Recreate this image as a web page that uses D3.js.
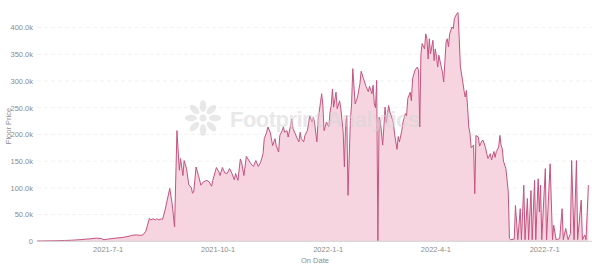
<!DOCTYPE html>
<html>
<head>
<meta charset="utf-8">
<script src="https://cdn.jsdelivr.net/npm/d3@7"></script>
<style>
    body { margin: 0; background: #fff; }
    text { font-family: "Liberation Sans", Arial, sans-serif; }
</style>
</head>
<body>
<svg></svg>
<script>
// floor price by date, in thousands
let dates = [
    "2021-05-03", "2021-05-10", "2021-05-18", "2021-05-26", "2021-06-01", "2021-06-08", "2021-06-13", "2021-06-18",
    "2021-06-22", "2021-06-26", "2021-06-28", "2021-07-01", "2021-07-08", "2021-07-13", "2021-07-18", "2021-07-21",
    "2021-07-25", "2021-07-29", "2021-07-31", "2021-08-02", "2021-08-05", "2021-08-06", "2021-08-08", "2021-08-10",
    "2021-08-11", "2021-08-13", "2021-08-15", "2021-08-16", "2021-08-18", "2021-08-22", "2021-08-24", "2021-08-26",
    "2021-08-28", "2021-08-30", "2021-08-31", "2021-09-02", "2021-09-03", "2021-09-05", "2021-09-07", "2021-09-09",
    "2021-09-10", "2021-09-11", "2021-09-13", "2021-09-15", "2021-09-17", "2021-09-19", "2021-09-22", "2021-09-24",
    "2021-09-26", "2021-09-27", "2021-09-30", "2021-10-02", "2021-10-03", "2021-10-05", "2021-10-07", "2021-10-09",
    "2021-10-11", "2021-10-13", "2021-10-15", "2021-10-16", "2021-10-18", "2021-10-20", "2021-10-21", "2021-10-23",
    "2021-10-25", "2021-10-28", "2021-10-30", "2021-10-31", "2021-11-02", "2021-11-04", "2021-11-06", "2021-11-08",
    "2021-11-09", "2021-11-11", "2021-11-12", "2021-11-14", "2021-11-16", "2021-11-18", "2021-11-19", "2021-11-21",
    "2021-11-22", "2021-11-24", "2021-11-25", "2021-11-26", "2021-11-28", "2021-11-29", "2021-12-01", "2021-12-02",
    "2021-12-03", "2021-12-05", "2021-12-06", "2021-12-08", "2021-12-09", "2021-12-10", "2021-12-12", "2021-12-13",
    "2021-12-15", "2021-12-16", "2021-12-17", "2021-12-19", "2021-12-20", "2021-12-21", "2021-12-23", "2021-12-24",
    "2021-12-26", "2021-12-27", "2021-12-28", "2021-12-29", "2021-12-31", "2022-01-02", "2022-01-03", "2022-01-04",
    "2022-01-05", "2022-01-06", "2022-01-08", "2022-01-09", "2022-01-11", "2022-01-12", "2022-01-14", "2022-01-15",
    "2022-01-16", "2022-01-17", "2022-01-18", "2022-01-20", "2022-01-21", "2022-01-22", "2022-01-24", "2022-01-26",
    "2022-01-28", "2022-01-29", "2022-01-31", "2022-02-02", "2022-02-04", "2022-02-05", "2022-02-07", "2022-02-08",
    "2022-02-09", "2022-02-10", "2022-02-11", "2022-02-12", "2022-02-13", "2022-02-14", "2022-02-16", "2022-02-17",
    "2022-02-18", "2022-02-19", "2022-02-21", "2022-02-22", "2022-02-24", "2022-02-25", "2022-02-26", "2022-02-28",
    "2022-03-01", "2022-03-02", "2022-03-04", "2022-03-05", "2022-03-07", "2022-03-08", "2022-03-09", "2022-03-11",
    "2022-03-12", "2022-03-13", "2022-03-15", "2022-03-17", "2022-03-18", "2022-03-19", "2022-03-20", "2022-03-21",
    "2022-03-23", "2022-03-24", "2022-03-25", "2022-03-26", "2022-03-27", "2022-03-28", "2022-03-30", "2022-03-31",
    "2022-04-01", "2022-04-02", "2022-04-03", "2022-04-04", "2022-04-06", "2022-04-07", "2022-04-08", "2022-04-10",
    "2022-04-11", "2022-04-12", "2022-04-13", "2022-04-15", "2022-04-16", "2022-04-17", "2022-04-19", "2022-04-20",
    "2022-04-21", "2022-04-22", "2022-04-24", "2022-04-25", "2022-04-26", "2022-04-27", "2022-04-28", "2022-04-29",
    "2022-04-30", "2022-05-01", "2022-05-03", "2022-05-04", "2022-05-05", "2022-05-07", "2022-05-08", "2022-05-10",
    "2022-05-11", "2022-05-13", "2022-05-14", "2022-05-15", "2022-05-17", "2022-05-18", "2022-05-20", "2022-05-21",
    "2022-05-22", "2022-05-24", "2022-05-25", "2022-05-26", "2022-05-27", "2022-05-28", "2022-05-30", "2022-05-31",
    "2022-06-01", "2022-06-02", "2022-06-03", "2022-06-06", "2022-06-07", "2022-06-09", "2022-06-11", "2022-06-12",
    "2022-06-14", "2022-06-15", "2022-06-17", "2022-06-18", "2022-06-20", "2022-06-21", "2022-06-23", "2022-06-24",
    "2022-06-26", "2022-06-27", "2022-06-28", "2022-06-29", "2022-07-02", "2022-07-03", "2022-07-06", "2022-07-08",
    "2022-07-09", "2022-07-11", "2022-07-14", "2022-07-16", "2022-07-17", "2022-07-19", "2022-07-21", "2022-07-23",
    "2022-07-24", "2022-07-26", "2022-07-28", "2022-07-29", "2022-08-01", "2022-08-02", "2022-08-04", "2022-08-05",
    "2022-08-07"
]

let floorPriceK = [
    0.5, 0.8, 1, 1.5, 2, 3, 4, 5,
    6, 5, 3, 4, 6, 7, 9, 11,
    12, 11, 13, 19, 43, 40, 42, 40,
    42, 40, 42, 41, 58, 99, 70, 27,
    207, 133, 155, 123, 151, 136, 105, 101,
    90, 92, 139, 123, 105, 111, 114, 111,
    103, 114, 138, 130, 123, 138, 128, 127,
    136, 127, 115, 127, 114, 154, 148, 123,
    159, 148, 142, 140, 151, 140, 148, 164,
    192, 204, 214, 204, 179, 192, 179, 167,
    198, 207, 214, 204, 207, 195, 217, 229,
    211, 201, 195, 186, 204, 192, 186, 198,
    207, 220, 235, 223, 232, 223, 186, 226,
    260, 276, 254, 207, 223, 214, 242, 254,
    285, 251, 279, 248, 263, 248, 204, 139,
    220, 235, 86, 226, 257, 323, 257, 270,
    295, 318, 304, 290, 280, 290, 276, 292,
    257, 250, 301, 1, 232, 226, 180, 214,
    251, 222, 254, 242, 229, 220, 200, 172,
    196, 186, 207, 223, 239, 235, 267, 279,
    263, 304, 320, 326, 320, 214, 351, 370,
    360, 388, 379, 341, 379, 351, 376, 338,
    360, 345, 326, 348, 326, 317, 298, 373,
    379, 364, 388, 401, 398, 417, 426, 428,
    379, 326, 298, 282, 270, 282, 251, 214,
    201, 175, 180, 89, 198, 195, 178, 188,
    189, 175, 164, 155, 164, 152, 168, 157,
    168, 176, 198, 180, 173, 150, 136, 115,
    92, 5, 3, 4, 67, 3, 61, 3,
    105, 3, 80, 3, 95, 3, 114, 3,
    117, 55, 105, 3, 136, 3, 145, 3,
    30, 3, 5, 61, 3, 24, 3, 15,
    151, 3, 151, 3, 77, 3, 12, 3,
    105
]

let yTicks = [0, 50, 100, 150, 200, 250, 300, 350, 400]
let xTicks = ["2021-07-01", "2021-10-01", "2022-01-01", "2022-04-01", "2022-07-01"]

let parseDate = d3.timeParse("%Y-%m-%d")
let data = dates.map((d, i) => ({date: parseDate(d), value: floorPriceK[i]}))

var svg = d3.select("svg")
    .attr("width", 600)
    .attr("height", 264)

// plot box (window.top is read-only, so keep these in an object)
var plot = {left: 37, right: 592, top: 27.5, bottom: 241.3}

let scX = d3.scaleTime()
    .domain([parseDate("2021-05-03"), parseDate("2022-08-07")])
    .range([plot.left, 588.4])

let scY = d3.scaleLinear()
    .domain([0, 400])
    .range([plot.bottom, plot.top])

// grid
svg.append("g")
    .selectAll("line")
    .data(yTicks.slice(1))
    .enter().append("line")
    .attr("x1", plot.left)
    .attr("x2", plot.right)
    .attr("y1", d => scY(d))
    .attr("y2", d => scY(d))
    .attr("stroke", "#efefef")
    .attr("stroke-dasharray", "4,3")
    .attr("stroke-width", 0.8)

let areaChart = d3.area()
    .x(d => scX(d.date))
    .y0(scY(0))
    .y1(d => scY(d.value))

let valueLine = d3.line()
    .x(d => scX(d.date))
    .y(d => scY(d.value))

svg.append("path")
    .attr("d", areaChart(data))
    .attr("fill", "#f6d5e0")

svg.append("path")
    .attr("d", valueLine(data))
    .attr("fill", "none")
    .attr("stroke", "#c5537f")
    .attr("stroke-width", 1)
    .attr("stroke-linejoin", "round")

// axes
let yAxis = d3.axisLeft(scY)
    .tickValues(yTicks)
    .tickSize(0)
    .tickPadding(4)
    .tickFormat(d => d === 0 ? "0" : d3.format(".1f")(d) + "k")

let gy = svg.append("g")
    .attr("transform", `translate(${plot.left}, 0)`)
    .call(yAxis)
gy.select(".domain").remove()
gy.selectAll("text").attr("fill", "#8c8c8c").style("font-size", "7.5px")

let xAxis = d3.axisBottom(scX)
    .tickValues(xTicks.map(parseDate))
    .tickSize(0)
    .tickPadding(5)
    .tickFormat(d3.timeFormat("%Y-%-m-%-d"))

let gx = svg.append("g")
    .attr("transform", `translate(0, ${plot.bottom})`)
    .call(xAxis)
gx.select(".domain").attr("stroke", "#d0d0d0").attr("d", `M${plot.left},0H${plot.right}`)
gx.selectAll("text").attr("fill", "#8c8c8c").style("font-size", "7.5px")

svg.append("text")
    .attr("x", 315)
    .attr("y", 263)
    .attr("text-anchor", "middle")
    .attr("fill", "#8c8c8c")
    .style("font-size", "7.5px")
    .text("On Date")

svg.append("text")
    .attr("transform", "translate(11, 126) rotate(-90)")
    .attr("text-anchor", "middle")
    .attr("fill", "#8c8c8c")
    .style("font-size", "7.5px")
    .text("Floor Price")

// watermark
let wm = svg.append("g").attr("opacity", 0.55)
let logo = wm.append("g").attr("transform", "translate(203, 118)")
logo.selectAll("ellipse")
    .data(d3.range(8))
    .enter().append("ellipse")
    .attr("cx", 0)
    .attr("cy", -12)
    .attr("rx", 3.2)
    .attr("ry", 6)
    .attr("fill", "#d6d6d6")
    .attr("transform", d => `rotate(${d * 45})`)
logo.append("circle").attr("r", 3.5).attr("fill", "#d6d6d6")

wm.append("text")
    .attr("x", 230)
    .attr("y", 127)
    .attr("fill", "#d6d6d6")
    .attr("textLength", 190)
    .style("font-size", "22px")
    .style("font-weight", "bold")
    .text("Footprint Analytics")
</script>
</body>
</html>
